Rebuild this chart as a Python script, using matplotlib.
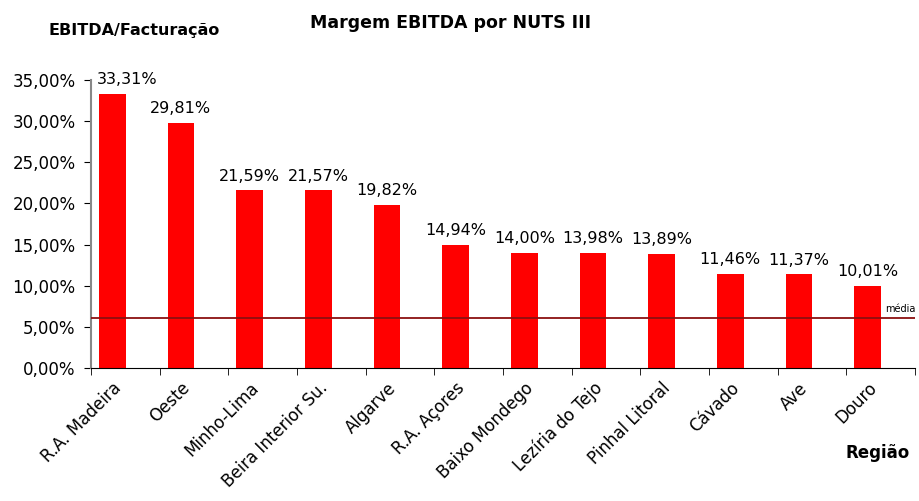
import numpy as np
import matplotlib.pyplot as plt
from matplotlib.ticker import FuncFormatter

regioes = ["R.A. Madeira", "Oeste", "Minho-Lima", "Beira Interior Su.", "Algarve",
           "R.A. Açores", "Baixo Mondego", "Lezíria do Tejo", "Pinhal Litoral",
           "Cávado", "Ave", "Douro"]
margem = [33.31, 29.81, 21.59, 21.57, 19.82, 14.94, 14.00, 13.98, 13.89, 11.46, 11.37, 10.01]
media = 6.05


def pct(v, pos=None):
    return ("%.2f%%" % v).replace(".", ",")


fig = plt.figure(figsize=(9.19, 5.01), dpi=100)
ax = fig.add_axes([0.099, 0.2655, 0.8966, 0.575])

# bars sit left of the centre of each category slot
off = 0.19
x = np.arange(len(regioes))
ax.bar(x, margem, width=0.39, color="#ff0000", zorder=2)
ax.axhline(media, color="#8b1010", lw=1.3, zorder=3)
ax.text(len(regioes) - 1 + 0.25, media + 0.55, "média", fontsize=7, ha="left",
        va="bottom", clip_on=False)

for xi, v in zip(x, margem):
    if xi == 0:
        ax.text(-0.5 + off + 0.08, v + 0.8, pct(v), ha="left", va="bottom", fontsize=11.5)
    else:
        ax.text(xi, v + 0.8, pct(v), ha="center", va="bottom", fontsize=11.5)

ax.set_xlim(-0.5 + off, len(regioes) - 0.5 + off)
ax.set_ylim(0, 35)
ax.set_yticks(np.arange(0, 36, 5))
ax.yaxis.set_major_formatter(FuncFormatter(pct))
ax.tick_params(axis="y", labelsize=12, length=5, pad=6, color="#000000")

ax.set_xticks(x)
ax.set_xticklabels(regioes, rotation=45, ha="right", rotation_mode="anchor", fontsize=12)
ax.tick_params(axis="x", length=0, pad=8)
ax.set_xticks(np.arange(len(regioes) + 1) - 0.5 + off, minor=True)
ax.tick_params(axis="x", which="minor", length=5, direction="out")

for s in ["top", "right"]:
    ax.spines[s].set_visible(False)
ax.spines["left"].set_color("#888888")
ax.spines["left"].set_linewidth(1.5)

fig.text(0.49, 0.955, "Margem EBITDA por NUTS III", ha="center", va="center",
         fontsize=12.5, fontweight="bold")
fig.text(0.146, 0.94, "EBITDA/Facturação", ha="center", va="center",
         fontsize=11.5, fontweight="bold")
fig.text(0.99, 0.095, "Região", ha="right", va="center", fontsize=12, fontweight="bold")

fig.savefig("out.png", dpi=100)
